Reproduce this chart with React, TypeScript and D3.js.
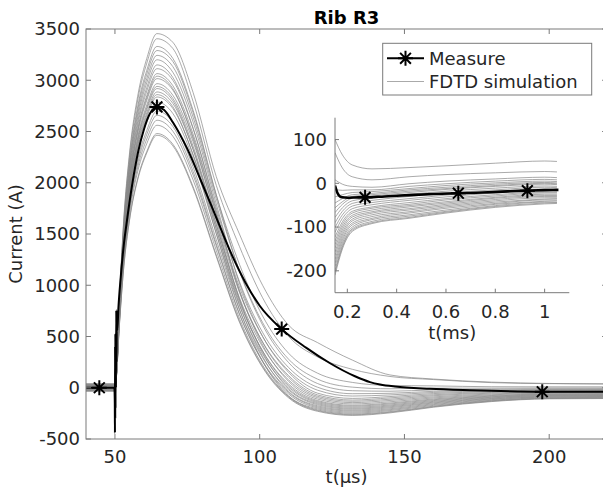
import React from 'react';
import * as d3 from 'd3';

// ---------- data ----------
const mainTimes = [40, 49.9, 50.4, 51.5, 53, 55, 58, 61, 64.5, 70, 77, 85, 93, 101, 110, 120, 132, 145, 160, 180, 200, 220];

const simCurves: number[][] = [
  [25, 25, 104, 829, 1624, 2280, 2868, 3213, 3455, 3370, 2880, 2060, 1500, 1000, 610, 440, 270, 125, 85, 55, 42, 37],
  [15, 15, 102, 817, 1600, 2247, 2826, 3167, 3405, 3310, 2792, 1975, 1379, 878, 500, 300, 180, 110, 80, 50, 40, 38],
  [-10, -10, 99, 790, 1546, 2171, 2731, 3060, 3290, 3183, 2683, 1879, 1205, 700, 336, 142, 52, 22, 18, 10, 9, 9],
  [30, 30, 97, 778, 1524, 2140, 2692, 3016, 3243, 3133, 2640, 1842, 1142, 636, 278, 84, 6, -10, -4, -4, -2, -2],
  [-25, -25, 100, 799, 1565, 2198, 2764, 3097, 3330, 3213, 2707, 1883, 1138, 612, 245, 41, -29, -34, -21, -15, -10, -10],
  [5, 5, 93, 747, 1463, 2055, 2584, 2895, 3113, 3000, 2527, 1754, 1036, 540, 197, 5, -58, -54, -35, -24, -17, -16],
  [-15, -15, 90, 724, 1418, 1991, 2503, 2805, 3016, 2904, 2446, 1695, 983, 499, 166, -24, -81, -70, -46, -31, -23, -21],
  [35, 35, 96, 768, 1504, 2112, 2656, 2976, 3200, 3078, 2592, 1793, 1020, 502, 150, -53, -104, -86, -57, -38, -29, -27],
  [-5, -5, 89, 712, 1394, 1958, 2463, 2759, 2967, 2854, 2400, 1654, 930, 447, 118, -70, -120, -99, -68, -46, -35, -33],
  [20, 20, 92, 736, 1441, 2023, 2544, 2850, 3065, 2947, 2474, 1699, 947, 443, 101, -84, -132, -112, -78, -53, -41, -39],
  [-30, -30, 87, 693, 1356, 1905, 2395, 2684, 2886, 2774, 2325, 1591, 879, 400, 76, -97, -145, -124, -89, -61, -47, -45],
  [10, 10, 95, 756, 1481, 2079, 2615, 2930, 3150, 3027, 2533, 1726, 945, 417, 61, -111, -158, -137, -99, -69, -53, -51],
  [-20, -20, 85, 681, 1333, 1872, 2355, 2638, 2837, 2725, 2276, 1546, 838, 359, 36, -125, -171, -149, -109, -76, -60, -57],
  [40, 40, 88, 706, 1382, 1940, 2440, 2734, 2940, 2823, 2356, 1595, 858, 359, 22, -135, -180, -158, -117, -82, -64, -62],
  [0, 0, 84, 669, 1310, 1840, 2314, 2593, 2788, 2676, 2230, 1506, 804, 328, 7, -145, -190, -168, -125, -88, -69, -67],
  [-35, -35, 91, 730, 1429, 2006, 2523, 2827, 3040, 2918, 2428, 1634, 867, 344, -8, -155, -200, -177, -133, -93, -74, -71],
  [15, 15, 81, 648, 1269, 1782, 2241, 2511, 2700, 2591, 2154, 1445, 761, 293, -21, -165, -209, -186, -141, -99, -78, -76],
  [-10, -10, 88, 701, 1372, 1927, 2423, 2715, 2919, 2800, 2325, 1555, 812, 304, -37, -176, -219, -195, -148, -105, -83, -80],
  [25, 25, 78, 626, 1227, 1723, 2166, 2427, 2610, 2503, 2075, 1384, 717, 260, -47, -186, -228, -205, -156, -110, -88, -85],
  [-25, -25, 80, 638, 1249, 1754, 2206, 2472, 2658, 2549, 2110, 1403, 721, 253, -61, -196, -238, -214, -164, -116, -92, -90],
  [30, 30, 86, 686, 1344, 1888, 2374, 2660, 2860, 2742, 2267, 1503, 766, 259, -80, -206, -248, -223, -172, -122, -97, -94],
  [-5, -5, 77, 615, 1204, 1690, 2126, 2382, 2561, 2454, 2027, 1340, 678, 220, -85, -216, -257, -233, -180, -127, -102, -99],
  [20, 20, 74, 595, 1166, 1637, 2058, 2306, 2480, 2376, 1961, 1294, 651, 206, -91, -223, -264, -239, -185, -131, -105, -102],
  [-15, -15, 74, 591, 1158, 1626, 2044, 2291, 2463, 2360, 1946, 1281, 640, 197, -99, -230, -270, -245, -190, -135, -108, -105],
];

const measureTimes = [40, 44.6, 49.8, 49.95, 50.0, 50.05, 50.1, 50.15, 50.2, 50.28, 50.35, 50.45, 50.55, 50.65, 50.8, 51.2, 52, 53, 54, 56, 58, 60, 62, 64.5, 67, 70, 75, 80, 85, 90, 95, 100, 107.6, 116, 124.3, 132.9, 138.1, 141.6, 146.7, 158.8, 172.6, 197.6, 220];
const measureValues = [0, 0, 0, -150, -440, 400, -300, 530, -200, 450, 0, 757, 250, 700, 560, 780, 1080, 1380, 1600, 1990, 2300, 2520, 2670, 2740, 2710, 2590, 2330, 2000, 1660, 1320, 1030, 800, 572, 391, 239, 112, 55, 32, 12, -10, -24, -39, -40];
const markerTimes = [44.6, 64.5, 107.6, 197.6];
const markerValues = [0, 2740, 572, -39];

const insetTimes = [0.15, 0.18, 0.22, 0.3, 0.45, 0.6, 0.8, 1.0, 1.05];
const insetCurves: number[][] = [
  [100, 65, 42, 33, 36, 40, 46, 51, 50],
  [70, 35, 15, 8, 15, 20, 24, 27, 26],
  [8, -2, -7, -9, -1, 5, 10, 14, 13],
  [-14, -16, -15, -15, -7, -1, 5, 9, 8],
  [-31, -26, -21, -19, -12, -5, 1, 5, 4],
  [-45, -35, -26, -23, -15, -9, -2, 2, 1],
  [-56, -42, -30, -26, -18, -12, -5, 0, -1],
  [-67, -48, -34, -29, -21, -14, -7, -2, -3],
  [-78, -56, -40, -34, -25, -18, -11, -6, -7],
  [-90, -64, -46, -39, -30, -22, -15, -9, -10],
  [-101, -72, -52, -44, -35, -27, -18, -13, -13],
  [-112, -80, -58, -49, -39, -31, -22, -16, -17],
  [-123, -88, -64, -54, -44, -35, -26, -20, -20],
  [-132, -94, -68, -57, -48, -38, -29, -22, -22],
  [-140, -100, -73, -61, -51, -42, -32, -25, -25],
  [-148, -106, -77, -65, -54, -45, -34, -28, -28],
  [-157, -112, -82, -68, -58, -48, -37, -30, -30],
  [-165, -118, -86, -72, -61, -51, -40, -33, -33],
  [-174, -124, -91, -76, -65, -54, -43, -36, -35],
  [-182, -130, -95, -80, -68, -57, -46, -38, -38],
  [-190, -136, -100, -83, -72, -61, -48, -41, -40],
  [-199, -142, -104, -87, -75, -64, -51, -43, -43],
  [-204, -146, -107, -90, -78, -66, -53, -45, -44],
  [-210, -150, -110, -92, -80, -68, -55, -47, -46],
];
const insetMeasureTimes = [0.15, 0.16, 0.17, 0.18, 0.2, 0.25, 0.272, 0.35, 0.45, 0.55, 0.65, 0.75, 0.85, 0.93, 1.0, 1.056];
const insetMeasureValues = [-5, -22, -30, -32, -33, -32, -32, -30, -27, -24.5, -22.6, -21, -18.5, -16.7, -15.5, -15];
const insetMarkerTimes = [0.272, 0.65, 0.93];
const insetMarkerValues = [-32, -22.6, -16.7];

const mainXTicks = [50, 100, 150, 200];
const mainYTicks = [-500, 0, 500, 1000, 1500, 2000, 2500, 3000, 3500];
const insetXTicks = [0.2, 0.4, 0.6, 0.8, 1];
const insetYTicks = [-200, -100, 0, 100];

const titleText = 'Rib R3';
const xLabel = 't(μs)';
const yLabel = 'Current (A)';
const insetXLabel = 't(ms)';
const legendLabels = ['Measure', 'FDTD simulation'];

// ---------- styles ----------
const FONT = 'DejaVu Sans, sans-serif';
const AXIS = '#7a7a7a';
const TXT = '#262626';
const GRAY = '#858585';

function star(cx: number, cy: number, r = 7.5) {
  const d = r * 0.72;
  return `M${cx - r},${cy}H${cx + r}M${cx},${cy - r}V${cy + r}M${cx - d},${cy - d}L${cx + d},${cy + d}M${cx - d},${cy + d}L${cx + d},${cy - d}`;
}

export default function App() {
  const x = d3.scaleLinear().domain([40, 220]).range([86, 607.1]);
  const y = d3.scaleLinear().domain([-500, 3500]).range([439, 29]);
  const ix = d3.scaleLinear().domain([0.15, 1.1]).range([335, 569.3]);
  const iy = d3.scaleLinear().domain([-250, 150]).range([292.7, 117.7]);

  const mainLine = d3.line<[number, number]>().x(d => x(d[0])).y(d => y(d[1])).curve(d3.curveMonotoneX);
  const insetLine = d3.line<[number, number]>().x(d => ix(d[0])).y(d => iy(d[1])).curve(d3.curveMonotoneX);

  const [x0, x1] = x.range();
  const [yb, yt] = y.range();
  const [ix0, ix1] = ix.range();
  const [iyb, iyt] = iy.range();

  return (
    <svg width={603} height={491} style={{ position: 'absolute', left: 0, top: 0, background: '#fff' }} fontFamily={FONT}>
      <defs>
        <clipPath id="mainClip"><rect x={x0} y={yt} width={x1 - x0} height={yb - yt} /></clipPath>
        <clipPath id="insetClip"><rect x={ix0} y={iyt} width={ix1 - ix0} height={iyb - iyt} /></clipPath>
      </defs>
      <rect width={603} height={491} fill="#fff" />

      {/* main plot lines */}
      <g clipPath="url(#mainClip)">
        {simCurves.map((c, i) => (
          <path key={i} d={mainLine(c.map((v, k) => [mainTimes[k], v] as [number, number])) || ''} fill="none" stroke={GRAY} strokeWidth={0.7} />
        ))}
        <path d={mainLine(measureValues.map((v, k) => [measureTimes[k], v] as [number, number])) || ''} fill="none" stroke="#000" strokeWidth={2} strokeLinejoin="round" />
        {markerTimes.map((t, i) => (
          <path key={i} d={star(x(t), y(markerValues[i]))} stroke="#000" strokeWidth={2} fill="none" />
        ))}
      </g>

      {/* main axes box */}
      <g stroke={AXIS} strokeWidth={1} fill="none">
        <rect x={x0} y={yt} width={x1 - x0} height={yb - yt} />
        {mainXTicks.map(t => (
          <g key={t}>
            <line x1={x(t)} x2={x(t)} y1={yb} y2={yb - 5} />
            <line x1={x(t)} x2={x(t)} y1={yt} y2={yt + 5} />
          </g>
        ))}
        {mainYTicks.map(t => (
          <g key={t}>
            <line x1={x0} x2={x0 + 5} y1={y(t)} y2={y(t)} />
            <line x1={x1} x2={x1 - 5} y1={y(t)} y2={y(t)} />
          </g>
        ))}
      </g>
      <g fill={TXT} fontSize={18}>
        {mainXTicks.map(t => (
          <text key={t} x={x(t)} y={463} textAnchor="middle">{t}</text>
        ))}
        {mainYTicks.map(t => (
          <text key={t} x={x0 - 6} y={y(t)} dy="0.35em" textAnchor="end">{t}</text>
        ))}
        <text x={(x0 + x1) / 2} y={482.5} textAnchor="middle">{xLabel}</text>
        <text transform={`translate(21.5, ${(yb + yt) / 2}) rotate(-90)`} textAnchor="middle">{yLabel}</text>
        <text x={(x0 + x1) / 2} y={23.5} textAnchor="middle" fontWeight="bold" fill="#000">{titleText}</text>
      </g>

      {/* inset */}
      <g clipPath="url(#insetClip)">
        {insetCurves.map((c, i) => (
          <path key={i} d={insetLine(c.map((v, k) => [insetTimes[k], v] as [number, number])) || ''} fill="none" stroke={GRAY} strokeWidth={0.7} />
        ))}
        <path d={insetLine(insetMeasureValues.map((v, k) => [insetMeasureTimes[k], v] as [number, number])) || ''} fill="none" stroke="#000" strokeWidth={2.6} strokeLinejoin="round" />
        {insetMarkerTimes.map((t, i) => (
          <path key={i} d={star(ix(t), iy(insetMarkerValues[i]))} stroke="#000" strokeWidth={2} fill="none" />
        ))}
      </g>
      <g stroke={AXIS} strokeWidth={1} fill="none">
        <line x1={ix0} x2={ix0} y1={iyt} y2={iyb} />
        <line x1={ix0} x2={ix1} y1={iyb} y2={iyb} />
        {insetXTicks.map(t => (
          <line key={t} x1={ix(t)} x2={ix(t)} y1={iyb} y2={iyb - 4} />
        ))}
        {insetYTicks.map(t => (
          <line key={t} x1={ix0} x2={ix0 + 4} y1={iy(t)} y2={iy(t)} />
        ))}
      </g>
      <g fill={TXT} fontSize={18}>
        {insetXTicks.map(t => (
          <text key={t} x={ix(t)} y={318} textAnchor="middle">{t}</text>
        ))}
        {insetYTicks.map(t => (
          <text key={t} x={ix0 - 8} y={iy(t)} dy="0.35em" textAnchor="end">{t}</text>
        ))}
        <text x={(ix0 + ix1) / 2} y={339} textAnchor="middle">{insetXLabel}</text>
      </g>

      {/* legend */}
      <g>
        <rect x={382.7} y={43.3} width={209} height={51.7} fill="#fff" stroke={AXIS} strokeWidth={1} />
        <line x1={387} x2={424} y1={58.3} y2={58.3} stroke="#000" strokeWidth={2} />
        <path d={star(405.5, 58.3)} stroke="#000" strokeWidth={2} fill="none" />
        <line x1={387} x2={424} y1={81.5} y2={81.5} stroke={GRAY} strokeWidth={0.7} />
        <text x={429} y={58.3} dy="0.35em" fontSize={18} fill={TXT}>{legendLabels[0]}</text>
        <text x={429} y={81.5} dy="0.35em" fontSize={18} fill={TXT}>{legendLabels[1]}</text>
      </g>
    </svg>
  );
}
